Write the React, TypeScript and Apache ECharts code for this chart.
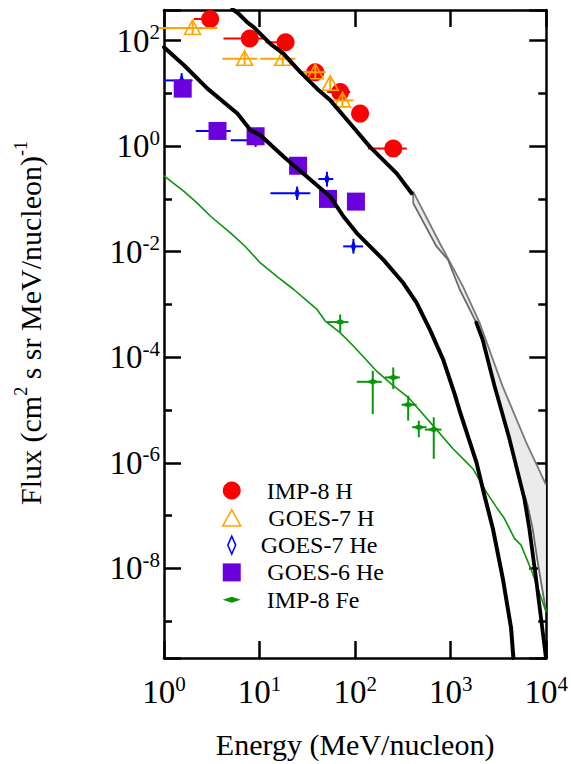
import React, { useEffect, useRef } from 'react';
import * as echarts from 'echarts';

const FONT = '"Liberation Serif", "Times New Roman", serif';
const RED = '#ff0000';
const ORANGE = '#ffa500';
const BLUE = '#0000ff';
const PURPLE = '#6a00dc';
const GREEN = '#0a960a';

// x axis: log10 energy (MeV/nucleon), y axis: log10 flux
const xTickDecades = [0, 1, 2, 3, 4];

// IMP-8 H
const impHEnergy = [3.04, 7.9, 18.7, 38.3, 69.8, 112.7, 250.6];
const impHFlux = [257, 110, 93, 25.2, 10.6, 4.14, 0.905];
const impHEnergyLo = [2.05, 4.19, 11.5, 26.7, 51, 112.7, 136];
const impHEnergyHi = [3.74, 11.0, 22.6, 48.7, 88.7, 112.7, 347];
const impHFluxLo = [165, 110, 93, 25.2, 10.6, 4.14, 0.905];
const impHFluxHi = [257, 110, 93, 25.2, 10.6, 4.14, 0.905];

// GOES-7 H
const goes7HEnergy = [1.99, 6.98, 17.5, 38.3, 54.9, 73.7];
const goes7HFlux = [173, 45.2, 45.2, 25.2, 15.2, 7.38];
const goes7HEnergyLo = [0.887, 4.09, 10.2, 26.7, 54.9, 57.2];
const goes7HEnergyHi = [3.63, 9.46, 23.7, 48.7, 54.9, 96];
const goes7HFluxLo = [133, 34.8, 34.8, 19.4, 11.7, 5.7];
const goes7HFluxHi = [225, 58.8, 58.8, 32.8, 19.8, 9.6];

// GOES-7 He
const goes7HeEnergy = [1.53, 3.63, 9.09, 24.7, 50.7, 96];
const goes7HeFlux = [17.6, 1.94, 1.30, 0.128, 0.238, 0.0126];
const goes7HeEnergyLo = [1.0, 2.15, 4.99, 13.0, 41.2, 75];
const goes7HeEnergyHi = [1.99, 4.99, 11.1, 34.0, 59.0, 121];
const goes7HeFluxLo = [13.2, 1.94, 0.97, 0.0957, 0.171, 0.00917];
const goes7HeFluxHi = [24.2, 1.94, 1.76, 0.171, 0.327, 0.0176];

// GOES-6 He
const goes6HeEnergy = [1.57, 3.63, 9.09, 25.3, 52, 102];
const goes6HeFlux = [12.3, 1.94, 1.54, 0.425, 0.1, 0.0889];

// IMP-8 Fe
const impFeEnergy = [69.8, 153, 250.6, 359, 464, 665];
const impFeFlux = [4.63e-4, 3.42e-5, 4.14e-5, 1.26e-5, 4.72e-6, 4.25e-6];
const impFeEnergyLo = [50.7, 104, 205, 306, 395, 536];
const impFeEnergyHi = [85.2, 190, 294, 439, 558, 800];
const impFeFluxLo = [2.96e-4, 8.4e-6, 2.49e-5, 6.3e-6, 3.05e-6, 1.19e-6];
const impFeFluxHi = [6.47e-4, 5.52e-5, 6.4e-5, 1.86e-5, 6.28e-6, 7.28e-6];

// Model curves
const hModelEnergy = [5.2, 6.08, 7.45, 8.73, 10.2, 13.0, 17.9, 26.7, 39.9, 55.0, 88.7, 143, 272, 390];
const hModelFlux = [396, 319, 221, 178, 134, 86.6, 56.1, 25.2, 12.3, 7.38, 2.68, 0.97, 0.305, 0.128];

const hTailEnergy = [1853, 2154, 2872, 4120, 5900, 6650, 7810, 8810, 9930];
const hTailFlux = [4.52e-4, 2.19e-4, 2.87e-5, 2.84e-6, 2.09e-7, 5.69e-8, 6.47e-9, 1.14e-9, 2.0e-10];

const heModelEnergy = [1.0, 1.63, 2.85, 5.86, 8.06, 10.2, 17.9, 31.4, 55.0, 75.5, 104, 197, 318, 439, 604, 831, 1101, 1271, 1853, 2259, 2761, 3508, 4285, 4529];
const heModelFlux = [74.8, 33.7, 12.3, 4.14, 2.0, 1.61, 0.628, 0.264, 0.110, 0.0464, 0.0225, 7.06e-3, 2.57e-3, 1.08e-3, 3.37e-4, 9.16e-5, 2.0e-5, 8.41e-6, 1.04e-6, 2.38e-7, 5.69e-8, 6.47e-9, 7.38e-10, 2.0e-10];

const feModelEnergy = [1.0, 1.63, 2.2, 3.09, 4.99, 7.0, 10.2, 15.5, 22.8, 31.0, 39.9, 48.7, 70, 96, 168, 240, 359, 654, 1057, 1458, 1706, 2355, 2992, 3652, 4645, 5450, 7200, 9930];
const feModelFlux = [0.272, 0.137, 0.085, 0.0464, 0.0225, 0.0128, 6.12e-3, 3.3e-3, 1.92e-3, 1.2e-3, 8.05e-4, 4.84e-4, 2.9e-4, 1.63e-4, 5.44e-5, 3.1e-5, 1.74e-5, 5.06e-6, 1.84e-6, 1.03e-6, 7.71e-7, 2.8e-7, 1.46e-7, 8.77e-8, 3.68e-8, 2.75e-8, 8.05e-9, 1.52e-9];

const bandUpperEnergy = [405, 767, 1343, 2004, 3480, 6150, 9930];
const bandUpperFlux = [0.137, 0.0146, 2.21e-3, 4.52e-4, 2.87e-5, 2.46e-6, 3.85e-7];
const bandLowerEnergy = [405, 710, 937, 1242, 1853, 2154, 2872, 4120, 5230, 6380, 7200, 8110, 9930];
const bandLowerFlux = [0.083, 0.0126, 7.06e-3, 1.92e-3, 4.52e-4, 2.19e-4, 2.87e-5, 2.46e-6, 4.99e-7, 1.56e-7, 5.69e-8, 1.35e-8, 1.55e-9];

const L = Math.log10;

type Kind = 'circle' | 'triangle' | 'thinDiamond' | 'square' | 'flatDiamond';

function markerEl(kind: Kind, cx: number, cy: number, color: string): any {
  switch (kind) {
    case 'circle':
      return { type: 'circle', shape: { cx, cy, r: 9 }, style: { fill: color } };
    case 'triangle':
      return {
        type: 'polygon',
        shape: { points: [[cx, cy - 8], [cx + 8, cy + 6.5], [cx - 8, cy + 6.5]] },
        style: { fill: 'none', stroke: color, lineWidth: 1.6 },
      };
    case 'thinDiamond':
      return {
        type: 'polygon',
        shape: { points: [[cx, cy - 7], [cx + 2.6, cy], [cx, cy + 7], [cx - 2.6, cy]] },
        style: { fill: color },
      };
    case 'square':
      return { type: 'rect', shape: { x: cx - 9, y: cy - 9, width: 18, height: 18 }, style: { fill: color } };
    default:
      return {
        type: 'polygon',
        shape: { points: [[cx - 6, cy], [cx, cy - 3], [cx + 6, cy], [cx, cy + 3]] },
        style: { fill: color },
      };
  }
}

function errorSeries(
  name: string,
  E: number[], F: number[],
  Elo: number[] | null, Ehi: number[] | null,
  Flo: number[] | null, Fhi: number[] | null,
  kind: Kind, color: string,
): any {
  const data = E.map((e, i) => [
    L(e), L(F[i]),
    L(Elo ? Elo[i] : e), L(Ehi ? Ehi[i] : e),
    L(Flo ? Flo[i] : F[i]), L(Fhi ? Fhi[i] : F[i]),
  ]);
  return {
    name,
    type: 'custom',
    xAxisIndex: 0,
    yAxisIndex: 0,
    data,
    encode: { x: 0, y: 1 },
    renderItem: (params: any, api: any) => {
      const x = api.value(0);
      const y = api.value(1);
      const c = api.coord([x, y]);
      const xl = api.coord([api.value(2), y]);
      const xh = api.coord([api.value(3), y]);
      const yl = api.coord([x, api.value(4)]);
      const yh = api.coord([x, api.value(5)]);
      const children: any[] = [];
      if (Math.abs(xh[0] - xl[0]) > 0.5) {
        children.push({ type: 'line', shape: { x1: xl[0], y1: c[1], x2: xh[0], y2: c[1] }, style: { stroke: color, lineWidth: 2 } });
      }
      if (Math.abs(yh[1] - yl[1]) > 0.5) {
        children.push({ type: 'line', shape: { x1: c[0], y1: yl[1], x2: c[0], y2: yh[1] }, style: { stroke: color, lineWidth: 2 } });
      }
      children.push(markerEl(kind, c[0], c[1], color));
      return { type: 'group', children };
    },
  };
}

function curve(name: string, E: number[], F: number[], color: string, width: number): any {
  return {
    name,
    type: 'line',
    xAxisIndex: 0,
    yAxisIndex: 0,
    showSymbol: false,
    symbol: 'none',
    silent: true,
    data: E.map((e, i) => [L(e), L(F[i])]),
    lineStyle: { color, width, join: 'round', cap: 'round' },
  };
}

const labelRich = {
  b: { fontFamily: FONT, fontSize: 33, lineHeight: 38, color: '#000' },
  s: { fontFamily: FONT, fontSize: 21, lineHeight: 21, verticalAlign: 'top', color: '#000' },
};

const decadeLabel = (v: number) => {
  const r = Math.round(v);
  return Math.abs(v - r) < 1e-6 ? `{b|10}{s|${r}}` : '';
};

const Y_MIN = -9.7;
const Y_MAX = 2.58;

const legendText = (padLeft: number) => ({
  fontFamily: FONT, fontSize: 24, color: '#000', padding: [0, 0, 0, padLeft],
});

export default function App() {
  const ref = useRef<HTMLDivElement>(null);
  useEffect(() => {
    document.body.style.margin = '0';
    if (!ref.current) return;
    const chart = echarts.init(ref.current, undefined, { renderer: 'svg' });

    const axisLine = { show: true, onZero: false, lineStyle: { color: '#000', width: 2.5 } };
    const tick = { show: true, inside: true, length: 17, lineStyle: { color: '#000', width: 2.5 } };
    const minor = { show: true, splitNumber: 2, length: 8, lineStyle: { color: '#000', width: 2.5 } };

    const bandSeries = {
      name: 'band',
      type: 'custom',
      xAxisIndex: 0,
      yAxisIndex: 0,
      silent: true,
      data: [[L(bandUpperEnergy[0]), L(bandUpperFlux[0])]],
      encode: { x: 0, y: 1 },
      renderItem: (params: any, api: any) => {
        const up = bandUpperEnergy.map((e, i) => api.coord([L(e), L(bandUpperFlux[i])]));
        const lo = bandLowerEnergy.map((e, i) => api.coord([L(e), L(bandLowerFlux[i])]));
        const pts = up.concat(lo.slice().reverse());
        return {
          type: 'group',
          children: [
            { type: 'polygon', shape: { points: pts }, style: { fill: '#ebebeb', stroke: 'none' } },
            { type: 'polyline', shape: { points: up }, style: { fill: 'none', stroke: '#7a7a7a', lineWidth: 1.8 } },
            { type: 'polyline', shape: { points: lo }, style: { fill: 'none', stroke: '#6a6a6a', lineWidth: 1.8 } },
            { type: 'line', shape: { x1: up[0][0], y1: up[0][1], x2: lo[0][0], y2: lo[0][1] }, style: { stroke: '#7a7a7a', lineWidth: 1.8 } },
          ],
        };
      },
    };

    const option: any = {
      animation: false,
      backgroundColor: '#fff',
      grid: { left: 164, right: 24, top: 10, bottom: 104, containLabel: false },
      xAxis: [
        {
          type: 'value', position: 'bottom', min: xTickDecades[0], max: xTickDecades[xTickDecades.length - 1], interval: 1,
          axisLine, axisTick: tick, splitLine: { show: false },
          axisLabel: { margin: 15, formatter: decadeLabel, rich: labelRich },
          name: 'Energy (MeV/nucleon)', nameLocation: 'middle', nameGap: 71,
          nameTextStyle: { fontFamily: FONT, fontSize: 30, color: '#000' },
        },
        {
          type: 'value', position: 'top', min: xTickDecades[0], max: xTickDecades[xTickDecades.length - 1], interval: 1,
          axisLine, axisTick: tick, splitLine: { show: false }, axisLabel: { show: false },
        },
      ],
      yAxis: [
        {
          type: 'value', position: 'left', min: Y_MIN, max: Y_MAX, splitNumber: 6,
          axisLine, axisTick: tick, minorTick: minor, splitLine: { show: false },
          axisLabel: { margin: 4, formatter: decadeLabel, rich: labelRich },
          name: '{t|Flux (cm}{s|2}{t| s sr MeV/nucleon)}{s|-1}', nameLocation: 'middle', nameGap: 116, nameRotate: 90,
          nameTextStyle: {
            fontFamily: FONT, color: '#000', padding: [0, 0, 0, 22],
            rich: {
              t: { fontFamily: FONT, fontSize: 30, lineHeight: 36, color: '#000' },
              s: { fontFamily: FONT, fontSize: 18, lineHeight: 18, verticalAlign: 'top', color: '#000' },
            },
          },
        },
        {
          type: 'value', position: 'right', min: Y_MIN, max: Y_MAX, splitNumber: 6,
          axisLine, axisTick: tick, minorTick: minor, splitLine: { show: false }, axisLabel: { show: false },
        },
      ],
      legend: {
        orient: 'vertical', left: 217, top: 473.5, itemWidth: 18, itemHeight: 18, itemGap: 3.3,
        selectedMode: false,
        textStyle: legendText(21),
        data: [
          { name: 'IMP-8 H', icon: 'circle', itemStyle: { color: RED }, textStyle: legendText(21) },
          { name: 'GOES-7 H', icon: 'path://M8,0L16,14.7L0,14.7Z', itemStyle: { color: '#fff', borderColor: ORANGE, borderWidth: 1.5 }, textStyle: legendText(22.6) },
          { name: 'GOES-7 He', icon: 'path://M3.5,0L7,8L3.5,16L0,8Z', itemStyle: { color: '#fff', borderColor: BLUE, borderWidth: 1.5 }, textStyle: legendText(15) },
          { name: 'GOES-6 He', icon: 'rect', itemStyle: { color: PURPLE }, textStyle: legendText(21.6) },
          { name: 'IMP-8 Fe', icon: 'path://M0,2.5L7.5,0L15,2.5L7.5,5Z', itemStyle: { color: GREEN }, textStyle: legendText(21) },
        ],
      },
      series: [
        errorSeries('IMP-8 H', impHEnergy, impHFlux, impHEnergyLo, impHEnergyHi, impHFluxLo, impHFluxHi, 'circle', RED),
        errorSeries('GOES-7 H', goes7HEnergy, goes7HFlux, goes7HEnergyLo, goes7HEnergyHi, goes7HFluxLo, goes7HFluxHi, 'triangle', ORANGE),
        errorSeries('GOES-7 He', goes7HeEnergy, goes7HeFlux, goes7HeEnergyLo, goes7HeEnergyHi, goes7HeFluxLo, goes7HeFluxHi, 'thinDiamond', BLUE),
        errorSeries('GOES-6 He', goes6HeEnergy, goes6HeFlux, null, null, null, null, 'square', PURPLE),
        errorSeries('IMP-8 Fe', impFeEnergy, impFeFlux, impFeEnergyLo, impFeEnergyHi, impFeFluxLo, impFeFluxHi, 'flatDiamond', GREEN),
        curve('Fe model', feModelEnergy, feModelFlux, GREEN, 1.6),
        bandSeries,
        curve('H model', hModelEnergy, hModelFlux, '#000', 4),
        curve('H model tail', hTailEnergy, hTailFlux, '#000', 3.8),
        curve('He model', heModelEnergy, heModelFlux, '#000', 4),
      ],
    };
    chart.setOption(option);
    return () => chart.dispose();
  }, []);
  return <div ref={ref} style={{ width: 571, height: 764 }} />;
}
